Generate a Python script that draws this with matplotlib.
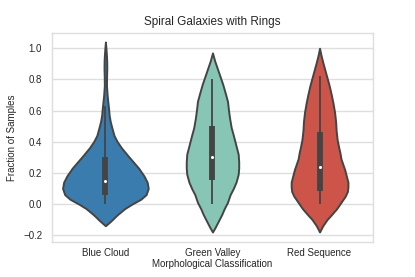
import numpy as np
import matplotlib
matplotlib.use("Agg")
import matplotlib.pyplot as plt

plt.rcParams['font.family'] = ['Liberation Sans', 'DejaVu Sans']

categories = ["Blue Cloud", "Green Valley", "Red Sequence"]
colors = ["#3a7cad", "#87c5b4", "#cc5448"]

# violin outlines: y value -> half width (x units)
bc_y = [-0.14, -0.11, -0.07, -0.03, 0.0, 0.03, 0.06, 0.10, 0.14, 0.18, 0.23, 0.27, 0.31, 0.36, 0.40, 0.44, 0.49, 0.53, 0.57, 0.61, 0.66, 0.70, 0.76, 0.82, 0.87, 0.92, 0.96, 1.00, 1.04]
bc_w = [0.0, 0.05, 0.11, 0.18, 0.25, 0.33, 0.38, 0.40, 0.39, 0.36, 0.31, 0.26, 0.21, 0.15, 0.11, 0.08, 0.06, 0.045, 0.035, 0.03, 0.022, 0.016, 0.01, 0.011, 0.013, 0.012, 0.009, 0.005, 0.0]

gv_y = [-0.18, -0.15, -0.11, -0.07, -0.03, 0.01, 0.06, 0.10, 0.14, 0.19, 0.23, 0.27, 0.32, 0.36, 0.40, 0.44, 0.49, 0.55, 0.60, 0.66, 0.71, 0.77, 0.82, 0.87, 0.92, 0.97]
gv_w = [0.0, 0.025, 0.055, 0.085, 0.11, 0.14, 0.165, 0.195, 0.22, 0.24, 0.245, 0.245, 0.24, 0.225, 0.21, 0.195, 0.175, 0.16, 0.15, 0.14, 0.12, 0.095, 0.07, 0.045, 0.02, 0.0]

rs_y = [-0.18, -0.14, -0.10, -0.07, -0.03, 0.01, 0.05, 0.08, 0.11, 0.14, 0.18, 0.22, 0.25, 0.29, 0.33, 0.36, 0.41, 0.47, 0.53, 0.59, 0.65, 0.70, 0.76, 0.81, 0.86, 0.91, 0.96, 1.00]
rs_w = [0.0, 0.03, 0.07, 0.11, 0.16, 0.2, 0.24, 0.26, 0.265, 0.265, 0.25, 0.235, 0.22, 0.2, 0.19, 0.18, 0.165, 0.155, 0.15, 0.14, 0.125, 0.11, 0.09, 0.07, 0.05, 0.03, 0.012, 0.0]

# box stats: whisker low, q1, median, q3, whisker high
whislo = [0.0, 0.0, 0.0]
q1 = [0.055, 0.155, 0.085]
median = [0.148, 0.30, 0.235]
q3 = [0.30, 0.50, 0.46]
whishi = [0.63, 0.80, 0.82]

profiles = [(bc_y, bc_w), (gv_y, gv_w), (rs_y, rs_w)]

fig, ax = plt.subplots(figsize=(4.15, 2.77), dpi=100)
fig.subplots_adjust(left=0.125, right=0.899, bottom=0.126, top=0.881)

ax.set_axisbelow(True)
ax.grid(axis='y', color='#dedede', linewidth=1.0)
for sp in ax.spines.values():
    sp.set_color('#dedede')
    sp.set_linewidth(1.0)

stats = []
for (ys, ws), med in zip(profiles, median):
    ys = np.array(ys); ws = np.array(ws)
    stats.append({'coords': ys, 'vals': ws, 'mean': med, 'median': med,
                  'min': ys.min(), 'max': ys.max()})
widths = [2 * max(w) for _, w in profiles]
parts = ax.violin(stats, positions=range(3), widths=widths,
                  showmeans=False, showextrema=False, showmedians=False)
for body, c in zip(parts['bodies'], colors):
    body.set_facecolor(c)
    body.set_edgecolor('#444444')
    body.set_linewidth(1.4)
    body.set_alpha(1)

pos = np.arange(3)
ax.vlines(pos, whislo, whishi, color='#444444', linewidth=1.3, zorder=3)
ax.vlines(pos, q1, q3, color='#444444', linewidth=4.2, zorder=3)
ax.scatter(pos, median, s=5, color='white', zorder=4, linewidths=0)

ax.set_xlim(-0.5, 2.5)
ax.set_ylim(-0.245, 1.098)
ax.set_xticks(pos)
ax.set_xticklabels(categories)
ax.set_yticks([-0.2, 0.0, 0.2, 0.4, 0.6, 0.8, 1.0])
ax.set_yticklabels(['\u22120.2', '0.0', '0.2', '0.4', '0.6', '0.8', '1.0'])
ax.tick_params(length=0, labelsize=7, colors='#262626')
ax.tick_params(axis='y', pad=7)
ax.tick_params(axis='x', pad=4)
ax.set_xlabel("Morphological Classification", fontsize=7, color='#262626', labelpad=1)
ax.set_ylabel("Fraction of Samples", fontsize=7, color='#262626', labelpad=4)
ax.set_title("Spiral Galaxies with Rings", fontsize=8.5, color='#262626', pad=6)

fig.savefig("out.png", dpi=100)
